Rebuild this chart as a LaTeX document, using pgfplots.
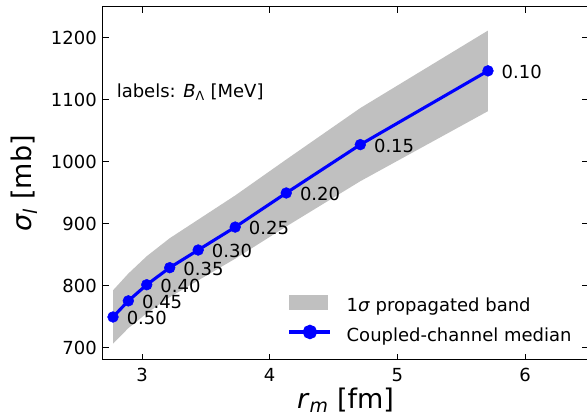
\documentclass[border=0pt]{standalone}
\usepackage{fontspec}
\setmainfont{DejaVu Sans}
\usepackage{pgfplots}
\pgfplotsset{compat=1.18}
\definecolor{bandgray}{RGB}{192,192,192}
\definecolor{mplblue}{RGB}{0,0,255}
\newcommand{\fs}{\fontsize{18}{21.6}\selectfont}
\newcommand{\fl}{\fontsize{27}{32}\selectfont}
\pgfplotstableread{
x y lab
2.773 750 0.50
2.893 776 0.45
3.037 802 0.40
3.217 829.5 0.35
3.44 858 0.30
3.73 895 0.25
4.13 950 0.20
4.71 1028 0.15
5.71 1147 0.10
}\median
\pgfplotstableread{
x y
2.773 793
2.893 820
3.037 848
3.217 877
3.44 907
3.73 946
4.13 1004
4.71 1087
5.71 1212
5.71 1082
4.71 969
4.13 896
3.73 844
3.44 809
3.217 782
3.037 756
2.893 732
2.773 707
}\band
\pgfplotsset{
  bandlegend/.style={legend image code/.code={\fill[bandgray] (0pt,-2.8pt) rectangle (39pt,12.2pt);}},
  linelegend/.style={legend image code/.code={\draw[mplblue, line width=3.1pt] (0pt,4.7pt) -- (41pt,4.7pt); \fill[mplblue] (20.5pt,4.7pt) circle (5.65pt);}},
}
\begin{document}
\begin{tikzpicture}
\begin{axis}[
  name=ax,
  scale only axis, width=485pt, height=353pt,
  xmin=2.6945, xmax=6.4934, ymin=680.6, ymax=1250,
  xtick={3,4,5,6}, ytick={700,800,900,1000,1100,1200},
  scaled ticks=false,
  tick align=inside, major tick length=6pt,
  axis line style={line width=1pt},
  every tick/.style={black, line width=1pt},
  /pgf/number format/assume math mode=true,
  /pgf/number format/1000 sep={},
  tick label style={font=\fs, inner sep=0pt},
  xticklabel style={yshift=-8pt},
  yticklabel style={xshift=-6pt},
  xlabel={\textit{r}\textsubscript{\textit{m}} [fm]},
  ylabel={\textit{σ}\textsubscript{\textit{l}} [mb]},
  label style={font=\fl},
  x label style={at={(axis description cs:0.5,-0.1375)}, anchor=base},
  y label style={at={(axis description cs:-0.163,0.5)}, anchor=center},
  legend cell align=left,
  legend style={draw=none, fill=none, at={(rel axis cs:0.9664,0.040)}, anchor=south east,
    font=\fs, inner sep=0pt, column sep=14.7pt, row sep=9pt,
    nodes={inner sep=0pt, text height=13.7pt, text depth=4.3pt}},
]
\addplot[fill=bandgray, draw=none, bandlegend]
  table[x=x, y=y] {\band} -- cycle;
\addlegendentry{1\textit{σ} propagated band}
\addplot[color=mplblue, line width=3.1pt, mark=*, mark size=5.4pt,
  mark options={solid, line width=0.5pt, fill=mplblue},
  nodes near coords, point meta=explicit symbolic,
  every node near coord/.append style={anchor=west, inner sep=0pt, xshift=13.5pt, yshift=-1pt, font=\fs, text=black},
  linelegend]
  table[x=x, y=y, meta=lab] {\median};
\addlegendentry{Coupled-channel median}
\node[anchor=west, font=\fs, inner sep=0pt] at (rel axis cs:0.028,0.759) {labels: \textit{B}\textsubscript{Λ} [MeV]};
\end{axis}
\pgfresetboundingbox
\path[use as bounding box] ([xshift=-103pt,yshift=-57pt]ax.south west) rectangle ([xshift=-1pt,yshift=7pt]ax.north east);
\end{tikzpicture}
\end{document}
